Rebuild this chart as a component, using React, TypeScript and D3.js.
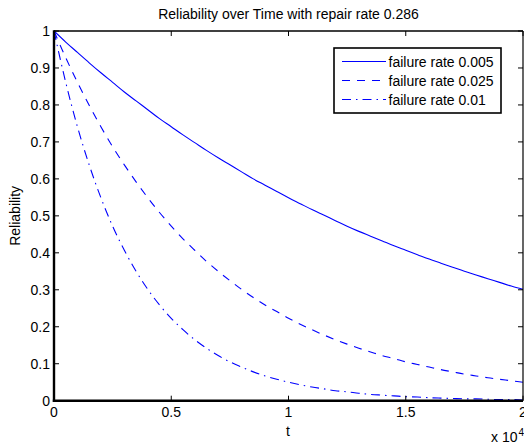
import { useEffect, useRef } from 'react'
import * as d3 from 'd3'

// time samples (t), every 500
const times = d3.range(0, 20001, 500)

const rateLow = [
  1, 0.97, 0.942, 0.914, 0.887, 0.861, 0.835, 0.811, 0.787, 0.763, 0.741,
  0.719, 0.698, 0.677, 0.657, 0.638, 0.619, 0.6, 0.583, 0.566, 0.549,
  0.533, 0.517, 0.502, 0.487, 0.472, 0.458, 0.445, 0.432, 0.419, 0.407,
  0.395, 0.383, 0.372, 0.361, 0.35, 0.34, 0.33, 0.32, 0.31, 0.301,
]
const rateHigh = [
  1, 0.928, 0.861, 0.799, 0.741, 0.687, 0.638, 0.592, 0.549, 0.509, 0.472,
  0.438, 0.407, 0.377, 0.35, 0.325, 0.301, 0.279, 0.259, 0.241, 0.223,
  0.207, 0.192, 0.178, 0.165, 0.153, 0.142, 0.132, 0.122, 0.114, 0.105,
  0.098, 0.091, 0.084, 0.078, 0.072, 0.067, 0.062, 0.058, 0.054, 0.05,
]
const rateMid = [
  1, 0.861, 0.741, 0.638, 0.549, 0.472, 0.407, 0.35, 0.301, 0.259, 0.223,
  0.192, 0.165, 0.142, 0.122, 0.105, 0.091, 0.078, 0.067, 0.058, 0.05,
  0.043, 0.037, 0.032, 0.027, 0.024, 0.02, 0.017, 0.015, 0.013, 0.011,
  0.01, 0.008, 0.007, 0.006, 0.005, 0.005, 0.004, 0.003, 0.003, 0.002,
]

const seriesLabels = ['failure rate 0.005', 'failure rate 0.025', 'failure rate 0.01']
const seriesDash = ['none', '8,7', '9,5,1.5,5']
const xTicks = [0, 5000, 10000, 15000, 20000]
const xTickLabels = ['0', '0.5', '1', '1.5', '2']
const yTicks = d3.range(0, 1.01, 0.1)

const W = 524
const H = 447
const FONT = '"Liberation Sans", Arial, Helvetica, sans-serif'

export default function App() {
  const svgRef = useRef<SVGSVGElement>(null)

  useEffect(() => {
    if (!svgRef.current) return
    const svg = d3.select(svgRef.current)
    svg.selectAll('*').remove()

    const left = 54, right = 523, top = 31, bottom = 400.7

    const x = d3.scaleLinear().domain([0, 20000]).range([left, right])
    const y = d3.scaleLinear().domain([0, 1]).range([bottom, top])

    svg.append('rect').attr('width', W).attr('height', H).attr('fill', '#fff')

    svg.append('defs').append('clipPath').attr('id', 'plot-clip')
      .append('rect')
      .attr('x', left).attr('y', top - 2)
      .attr('width', right - left).attr('height', bottom - top + 4)

    // curves
    const line = d3.line<number>()
      .x((_, i) => x(times[i]))
      .y(d => y(d))
      .curve(d3.curveMonotoneX)

    const allSeries = [rateLow, rateHigh, rateMid]
    allSeries.forEach((vals, i) => {
      svg.append('path')
        .attr('d', line(vals) as string)
        .attr('clip-path', 'url(#plot-clip)')
        .attr('fill', 'none')
        .attr('stroke', '#0000ff')
        .attr('stroke-width', 1.1)
        .attr('stroke-dasharray', seriesDash[i])
    })

    // ticks (inward, all four sides)
    const tickLen = 5
    xTicks.forEach(t => {
      svg.append('line').attr('x1', x(t)).attr('x2', x(t))
        .attr('y1', bottom).attr('y2', bottom - tickLen)
        .attr('stroke', '#000').attr('stroke-width', 1)
      svg.append('line').attr('x1', x(t)).attr('x2', x(t))
        .attr('y1', top).attr('y2', top + tickLen)
        .attr('stroke', '#000').attr('stroke-width', 1)
    })
    yTicks.forEach(v => {
      svg.append('line').attr('x1', left).attr('x2', left + tickLen)
        .attr('y1', y(v)).attr('y2', y(v))
        .attr('stroke', '#000').attr('stroke-width', 1)
      svg.append('line').attr('x1', right).attr('x2', right - tickLen)
        .attr('y1', y(v)).attr('y2', y(v))
        .attr('stroke', '#000').attr('stroke-width', 1)
    })

    // frame
    svg.append('line').attr('x1', left).attr('x2', right).attr('y1', top).attr('y2', top)
      .attr('stroke', '#000').attr('stroke-width', 1.5)
    svg.append('line').attr('x1', right).attr('x2', right).attr('y1', top).attr('y2', bottom)
      .attr('stroke', '#000').attr('stroke-width', 1.2)
    svg.append('line').attr('x1', left).attr('x2', left).attr('y1', top - 0.7).attr('y2', bottom + 1.2)
      .attr('stroke', '#000').attr('stroke-width', 2.4)
    svg.append('line').attr('x1', left - 1.2).attr('x2', right).attr('y1', bottom).attr('y2', bottom)
      .attr('stroke', '#000').attr('stroke-width', 2.4)

    // tick labels
    xTicks.forEach((t, i) => {
      svg.append('text')
        .attr('x', x(t)).attr('y', 417)
        .attr('text-anchor', 'middle')
        .attr('font-family', FONT).attr('font-size', 14)
        .attr('fill', '#000')
        .text(xTickLabels[i])
    })
    yTicks.forEach(v => {
      svg.append('text')
        .attr('x', 50).attr('y', y(v) + 5)
        .attr('text-anchor', 'end')
        .attr('font-family', FONT).attr('font-size', 14)
        .attr('fill', '#000')
        .text(d3.format('.1~f')(v))
    })

    // title and axis labels
    svg.append('text')
      .attr('x', (left + right) / 2).attr('y', 19)
      .attr('text-anchor', 'middle')
      .attr('font-family', FONT).attr('font-size', 14)
      .text('Reliability over Time with repair rate 0.286')

    svg.append('text')
      .attr('x', 288).attr('y', 436)
      .attr('text-anchor', 'middle')
      .attr('font-family', FONT).attr('font-size', 14)
      .text('t')

    svg.append('text')
      .attr('transform', `translate(20, ${(top + bottom) / 2}) rotate(-90)`)
      .attr('text-anchor', 'middle')
      .attr('font-family', FONT).attr('font-size', 14)
      .text('Reliability')

    const exp = svg.append('text')
      .attr('x', 491).attr('y', 442)
      .attr('font-family', FONT).attr('font-size', 14)
    exp.append('tspan').text('x 10')
    exp.append('tspan').attr('font-size', 10).attr('dy', -6).attr('dx', 1).text('4')

    // legend
    const lg = svg.append('g')
    lg.append('rect')
      .attr('x', 334).attr('y', 48)
      .attr('width', 167).attr('height', 65)
      .attr('fill', '#fff').attr('stroke', '#000').attr('stroke-width', 1.6)
    seriesLabels.forEach((lab, i) => {
      const ry = 61.5 + i * 19
      lg.append('line')
        .attr('x1', 342).attr('x2', 386)
        .attr('y1', ry).attr('y2', ry)
        .attr('stroke', '#0000ff').attr('stroke-width', 1.1)
        .attr('stroke-dasharray', seriesDash[i])
      lg.append('text')
        .attr('x', 388.5).attr('y', ry + 5)
        .attr('font-family', FONT).attr('font-size', 14)
        .text(lab)
    })
  }, [])

  return (
    <svg
      ref={svgRef}
      width={W}
      height={H}
      style={{ position: 'absolute', left: 0, top: 0, display: 'block' }}
    />
  )
}
